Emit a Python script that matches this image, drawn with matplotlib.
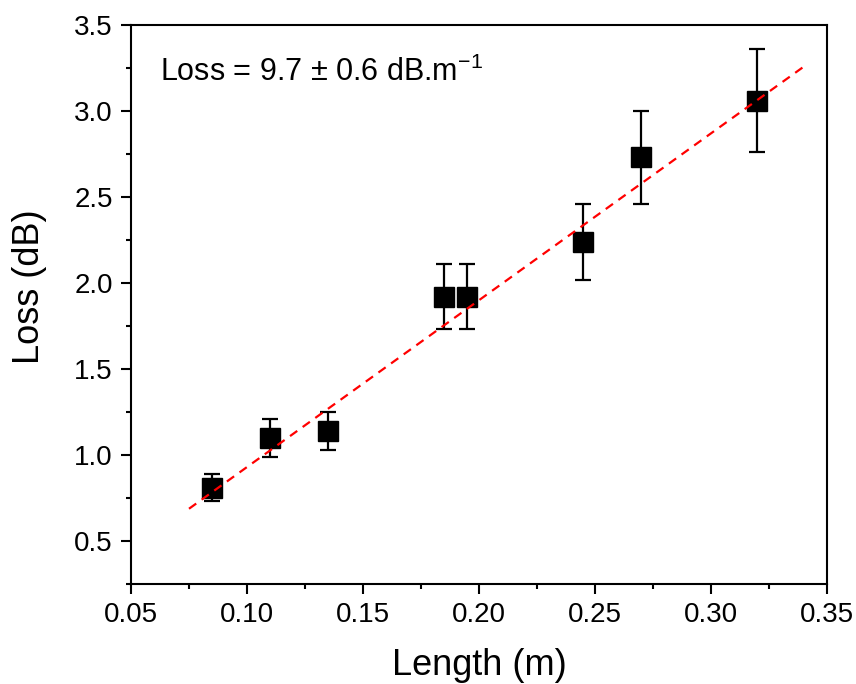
import numpy as np
import matplotlib
matplotlib.use('Agg')
import matplotlib.pyplot as plt
from matplotlib.ticker import MultipleLocator

plt.rcParams['font.family'] = ['Liberation Sans', 'DejaVu Sans']
plt.rcParams['mathtext.fontset'] = 'custom'
plt.rcParams['mathtext.rm'] = 'Liberation Sans'

# data
length = [0.085, 0.11, 0.135, 0.185, 0.195, 0.245, 0.27, 0.32]
loss = [0.81, 1.10, 1.14, 1.92, 1.92, 2.24, 2.73, 3.06]
loss_err = [0.08, 0.11, 0.11, 0.19, 0.19, 0.22, 0.27, 0.30]

fit_slope = 9.7
fit_intercept = -0.04
fit_range = [0.075, 0.34]

fig = plt.figure(figsize=(8.56, 6.84), dpi=100)
ax = fig.add_axes([131 / 856, 1 - 584 / 684, (827 - 131) / 856, (584 - 25) / 684])

xf = np.array(fit_range)
ax.plot(xf, fit_slope * xf + fit_intercept, '--', color='red', lw=1.6,
        dashes=(4, 3), zorder=3)

ax.errorbar(length, loss, yerr=loss_err, fmt='s', color='black',
            markersize=14, ecolor='black', elinewidth=1.6, capsize=6,
            capthick=1.6, zorder=2)

ax.set_xlim(0.05, 0.35)
ax.set_ylim(0.25, 3.5)
ax.xaxis.set_minor_locator(MultipleLocator(0.025))
ax.yaxis.set_minor_locator(MultipleLocator(0.25))
ax.set_xticks(np.arange(0.05, 0.351, 0.05))
ax.set_xticklabels(['%.2f' % v for v in np.arange(0.05, 0.351, 0.05)])
ax.set_yticks(np.arange(0.5, 3.51, 0.5))
ax.set_yticklabels(['%.1f' % v for v in np.arange(0.5, 3.51, 0.5)])

ax.tick_params(which='major', direction='out', length=7.2, width=1.5,
               labelsize=20, top=False, right=False, pad=6)
ax.tick_params(which='minor', direction='out', length=3.6, width=1.5,
               top=False, right=False)
for s in ax.spines.values():
    s.set_linewidth(1.5)

ax.set_xlabel('Length (m)', fontsize=26)
ax.set_ylabel('Loss (dB)', fontsize=26)
ax.xaxis.set_label_coords(0.5, -0.115)
ax.yaxis.set_label_coords(-0.12, 0.531)

ax.text(0.042, 0.915, 'Loss = 9.7 ± 0.6 dB.m$^{\\mathregular{-1}}$',
        transform=ax.transAxes, fontsize=22, va='center', ha='left')

fig.savefig('out.png', dpi=100)
